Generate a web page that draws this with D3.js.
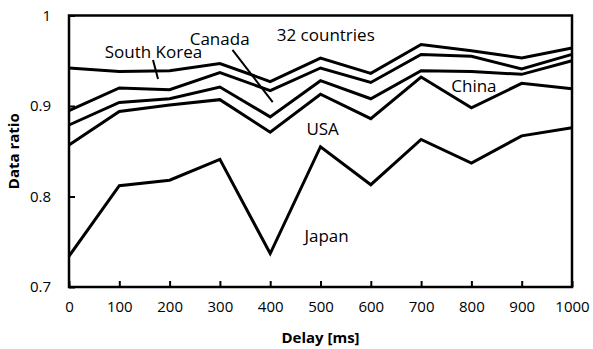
<!DOCTYPE html>
<html>
<head>
<meta charset="utf-8">
<script src="https://cdn.jsdelivr.net/npm/d3@7"></script>
<style>
  html, body { margin: 0; padding: 0; background: #fff; }
  svg { display: block; font-family: "Open Sans", sans-serif; }
</style>
</head>
<body>
<svg id="chart" width="593" height="349"></svg>
<script>
// Delay values on the x axis (ms)
const delays = [0, 100, 200, 300, 400, 500, 600, 700, 800, 900, 1000];

// Data ratio per delay, one array per curve (top to bottom)
const southKorea = [0.942, 0.938, 0.939, 0.947, 0.927, 0.953, 0.936, 0.968, 0.961, 0.953, 0.964];
const canada     = [0.895, 0.920, 0.918, 0.937, 0.917, 0.942, 0.926, 0.957, 0.955, 0.941, 0.957];
const china      = [0.879, 0.904, 0.908, 0.921, 0.888, 0.928, 0.908, 0.939, 0.938, 0.935, 0.950];
const usa        = [0.857, 0.894, 0.901, 0.907, 0.871, 0.913, 0.886, 0.932, 0.898, 0.925, 0.919];
const japan      = [0.734, 0.812, 0.818, 0.841, 0.737, 0.855, 0.813, 0.863, 0.837, 0.867, 0.876];

const seriesList = [southKorea, canada, china, usa, japan];

// Axis ticks
const xTicks = [0, 100, 200, 300, 400, 500, 600, 700, 800, 900, 1000];
const yTicks = [0.7, 0.8, 0.9, 1];

// Text annotations: [text, delay, ratio] at the text's left baseline
const annotations = [
  ["Canada", 240, 0.9674],
  ["South Korea", 71, 0.953],
  ["32 countries", 413, 0.9718],
  ["China", 760, 0.9155],
  ["USA", 472, 0.868],
  ["Japan", 468, 0.7497]
];

// Leader lines: [delay1, ratio1, delay2, ratio2]
const leaders = [
  [167, 0.9508, 177, 0.9298],
  [325, 0.9619, 405, 0.9044]
];

const svg = d3.select("#chart");
const plotLeft = 69, plotRight = 572, plotTop = 15.5, plotBottom = 287;

const x = d3.scaleLinear().domain([0, 1000]).range([plotLeft, plotRight]);
const y = d3.scaleLinear().domain([0.7, 1]).range([plotBottom, plotTop]);

// Inward ticks on the bottom axis
const xAxis = d3.axisBottom(x).tickValues(xTicks).tickSize(-6).tickPadding(14)
  .tickFormat(d3.format("d"));
const gx = svg.append("g").attr("transform", `translate(0,${plotBottom})`).call(xAxis);
gx.select(".domain").remove();
gx.selectAll(".tick line").attr("stroke", "#000").attr("stroke-width", 2);
gx.selectAll(".tick text").attr("font-size", 15).attr("font-family", "Open Sans")
  .attr("fill", "#000").attr("dy", "0.71em");

// Inward ticks on the left axis
const yAxis = d3.axisLeft(y).tickValues(yTicks).tickSize(-6).tickPadding(18)
  .tickFormat(d => d === 1 ? "1" : d3.format(".1f")(d));
const gy = svg.append("g").attr("transform", `translate(${plotLeft},0)`).call(yAxis);
gy.select(".domain").remove();
gy.selectAll(".tick line").attr("stroke", "#000").attr("stroke-width", 2);
gy.selectAll(".tick text").attr("font-size", 15).attr("font-family", "Open Sans").attr("fill", "#000");

// Plot frame
svg.append("rect")
  .attr("x", plotLeft).attr("y", plotTop)
  .attr("width", plotRight - plotLeft).attr("height", plotBottom - plotTop)
  .attr("fill", "none").attr("stroke", "#000").attr("stroke-width", 2.5);

// Curves
const line = d3.line().x((d, i) => x(delays[i])).y(d => y(d));
svg.append("g").selectAll("path").data(seriesList).join("path")
  .attr("d", line)
  .attr("fill", "none")
  .attr("stroke", "#000")
  .attr("stroke-width", 3)
  .attr("stroke-linejoin", "miter");

// Leader lines
svg.append("g").selectAll("line").data(leaders).join("line")
  .attr("x1", d => x(d[0])).attr("y1", d => y(d[1]))
  .attr("x2", d => x(d[2])).attr("y2", d => y(d[3]))
  .attr("stroke", "#000").attr("stroke-width", 2);

// Curve labels
svg.append("g").selectAll("text").data(annotations).join("text")
  .attr("x", d => x(d[1])).attr("y", d => y(d[2]))
  .attr("font-size", 17)
  .attr("fill", "#000")
  .text(d => d[0]);

// Axis titles
svg.append("text")
  .attr("x", (plotLeft + plotRight) / 2).attr("y", 343)
  .attr("text-anchor", "middle")
  .attr("font-size", 15).attr("font-weight", "bold")
  .text("Delay [ms]");

svg.append("text")
  .attr("transform", `translate(19,${(plotTop + plotBottom) / 2}) rotate(-90)`)
  .attr("text-anchor", "middle")
  .attr("font-size", 15).attr("font-weight", "bold")
  .text("Data ratio");
</script>
</body>
</html>
